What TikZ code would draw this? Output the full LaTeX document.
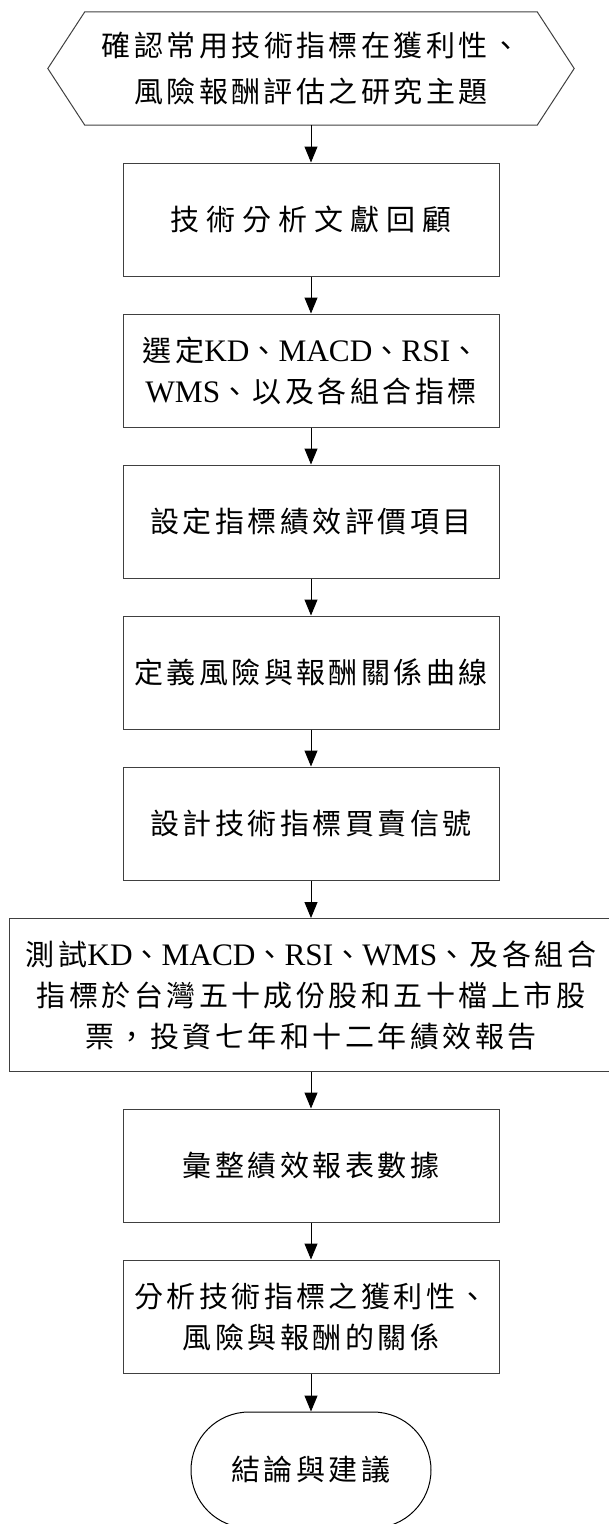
\documentclass[tikz,border=0pt]{standalone}
\usepackage{fontspec}
\setmainfont{Liberation Serif}
\newfontfamily\cjk[LetterSpace=12]{Noto Sans CJK TC}
\newfontfamily\latfont[Scale=1.08]{Liberation Serif}
\usetikzlibrary{arrows.meta,calc}
\newcommand\lat[1]{{\latfont #1}}
\tikzset{
  txt/.style={inner sep=0pt, align=center, font=\cjk\fontsize{29}{41}\selectfont},
  edge/.style={draw=black!75, line width=1pt},
  boxnode/.style={txt, edge, minimum width=376pt, minimum height=113pt},
  arr/.style={draw=black, line width=1pt, -{Triangle[length=16pt,width=13pt]}}
}
\begin{document}
\begin{tikzpicture}[x=1pt,y=-1pt]
\useasboundingbox (0,0) rectangle (608,1524);
\node[txt, font=\cjk\fontsize{29}{46}\selectfont, minimum width=526pt, minimum height=113pt] (hex) at (311,68.5)
  {確認常用技術指標在獲利性、\\風險報酬評估之研究主題};
\draw[edge] (hex.west) -- ($(hex.north west)+(37,0)$) -- ($(hex.north east)+(-37,0)$) -- (hex.east)
  -- ($(hex.south east)+(-37,0)$) -- ($(hex.south west)+(37,0)$) -- cycle;
\node[boxnode] (b2) at (311,219.5) {\addfontfeature{LetterSpace=24}技術分析文獻回顧};
\node[boxnode] (b3) at (311,370.5) {選定\lat{KD}、\lat{MACD}、\lat{RSI}、\\\lat{WMS}、以及各組合指標};
\node[boxnode] (b4) at (311,521.5) {設定指標績效評價項目};
\node[boxnode] (b5) at (311,672.5) {定義風險與報酬關係曲線};
\node[boxnode] (b6) at (311,823.5) {設計技術指標買賣信號};
\node[boxnode, minimum width=604pt, minimum height=153pt] (b7) at (311,995)
  {測試\lat{KD}、\lat{MACD}、\lat{RSI}、\lat{WMS}、及各組合\\指標於台灣五十成份股和五十檔上市股\\票，投資七年和十二年績效報告};
\node[boxnode] (b8) at (311,1165.5) {彙整績效報表數據};
\node[boxnode] (b9) at (311,1316.5) {分析技術指標之獲利性、\\風險與報酬的關係};
\node[boxnode, draw=black, minimum width=240pt, minimum height=116pt, rounded corners=58pt] (b10) at (311,1470) {結論與建議};
\draw[arr] (hex.south) -- (b2.north);
\draw[arr] (b2.south) -- (b3.north);
\draw[arr] (b3.south) -- (b4.north);
\draw[arr] (b4.south) -- (b5.north);
\draw[arr] (b5.south) -- (b6.north);
\draw[arr] (b6.south) -- (b7.north);
\draw[arr] (b7.south) -- (b8.north);
\draw[arr] (b8.south) -- (b9.north);
\draw[arr] (b9.south) -- (b10.north);
\end{tikzpicture}
\end{document}
